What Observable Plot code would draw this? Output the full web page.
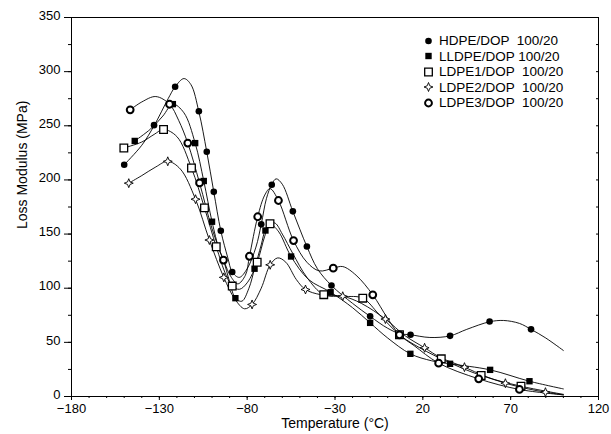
<!DOCTYPE html>
<html><head><meta charset="utf-8">
<script src="https://cdn.jsdelivr.net/npm/d3@7"></script>
<script src="https://cdn.jsdelivr.net/npm/@observablehq/plot@0.6"></script>
<style>
body{margin:0;background:#fff;font-family:"Liberation Sans",Arial,sans-serif}
#wrap{position:relative;width:611px;height:434px}
#legend{position:absolute;left:422px;top:33px;font-size:13.5px;line-height:15.5px;color:#000}
#legend .row{display:flex;align-items:center;white-space:pre;height:15.5px}
#legend svg{margin-right:4px}
</style>
</head><body><div id="wrap"><div id="chart"></div><div id="legend"></div></div>
<script>
const seriesNames = ["HDPE/DOP  100/20","LLDPE/DOP 100/20","LDPE1/DOP  100/20","LDPE2/DOP  100/20","LDPE3/DOP  100/20"];
const xTicks = [-180,-130,-80,-30,20,70,120];
const yTicks = [0,50,100,150,200,250,300,350];

// HDPE/DOP (filled circle)
const hdpeMarkT = [-150,-133,-121,-107.5,-103,-99,-95,-88.5,-72,-66,-54,-46,-32,-10,13,35.5,58,81.6];
const hdpeMarkV = [214,250.6,286,263.4,226,189,153,115,159,195.5,171,138.5,102.5,74,57,56,69.3,62];
const hdpeCurveT = [-150,-140,-133,-125,-121,-116,-112,-107.5,-103,-99,-95,-91,-88.5,-84.5,-80,-75,-72,-69,-66,-63.5,-60,-54,-46,-40,-32,-20,-10,0,7,13,24,35.5,45,58,66,75,81.6,90,100];
const hdpeCurveV = [214,232,250,275,286,293.6,288,263,226,189,153,128,115,110,118,138,159,183,196,201,196,171,138.5,118,102.5,86,74,63,58,57,54.5,56,62,69,70.2,67.5,62,54,42.5];

// LLDPE/DOP (filled square)
const lldpeMarkT = [-144,-122.3,-109.6,-104.7,-100,-93.5,-86.7,-75.8,-69.6,-55,-32.5,-10,12.9,35.5,58.3,80.7];
const lldpeMarkV = [236,270,234,199,161.4,126,90.8,118,153.3,129.3,96.3,68,39.4,30.2,24.6,14.1];
const lldpeCurveT = [-144,-135,-128,-122.3,-116,-109.6,-104.7,-100,-96,-93.5,-90,-86.7,-83,-79,-75.8,-72,-69.6,-66,-62,-55,-45,-32.5,-20,-10,0,12.9,25,35.5,58.3,80.7,100];
const lldpeCurveV = [236,247,259,270,262,234,199,161.4,136,126,106,90.8,88,100,118,140,153.3,158,152,129.3,108,96.3,82,68,54,39.4,33,30.2,24.6,14.1,7];

// LDPE1/DOP (open square)
const ldpe1MarkT = [-150.2,-127.6,-111.7,-104.3,-97.6,-88.5,-74.3,-67,-36.4,-14.2,6.7,30.5,53.2,75.9];
const ldpe1MarkV = [229.5,246.6,211,174.2,138.3,102,124,159.5,94,90.8,57,34.8,19.4,9.5];
const ldpe1CurveT = [-150.2,-140,-133,-127.6,-120,-111.7,-104.3,-97.6,-92,-88.5,-84.4,-80,-74.3,-70,-67,-64,-60,-54,-46,-36.4,-25,-14.2,-5,6.7,15,30.5,53.2,75.9,100];
const ldpe1CurveV = [229.5,235,242,246.6,240,211,174.2,138.3,112,102,99,105,124,148,160,160,150,132,110,94,92.5,90.8,76,57,48,34.8,19.4,9.5,2];

// LDPE2/DOP (four-point star)
const ldpe2MarkT = [-147.4,-125.2,-109.4,-101.5,-93.3,-77.2,-66.9,-46.8,-25.6,-1.3,21,43.7,67,89.8];
const ldpe2MarkV = [197,217.2,182.2,144.5,110,85,121.6,98.8,92.6,71.5,45,27.1,12.3,4];
const ldpe2CurveT = [-147.4,-140,-132,-125.2,-118,-109.4,-101.5,-93.3,-87,-81.5,-77.2,-72,-66.9,-62.6,-58,-52,-46.8,-38,-25.6,-15,-1.3,10,21,30,43.7,55,67,80,89.8,100];
const ldpe2CurveV = [197,204,212,217.2,210,182.2,144.5,110,90,81,85,100,121.6,128,124,108,98.8,94,92.6,86,71.5,56,45,36,27.1,19,12.3,7,4,1.5];

// LDPE3/DOP (open thick circle)
const ldpe3MarkT = [-146.6,-124.2,-113.8,-107.1,-93.5,-78.7,-74,-62.2,-53.6,-31,-8.5,6.7,29,51.8,75];
const ldpe3MarkV = [264.7,269.9,234,197.2,126,129.5,166,181,144,118.5,93.9,57,30.8,16.3,6.5];
const ldpe3CurveT = [-146.6,-140,-132,-124.2,-119,-113.8,-107.1,-100,-93.5,-89,-85.3,-81,-78.7,-74,-70,-67,-62.2,-53.6,-46,-39,-31,-25.6,-18,-8.5,0,6.7,15,29,51.8,75,100];
const ldpe3CurveV = [264.7,272,277,269.9,255,234,197.2,155,126,110,104,112,129.5,166,186,192,181,144,124,116,118.5,120,112,93.9,72,57,47,30.8,16.3,6.5,1.5];

const star4 = {
  draw(ctx, size) {
    const r = Math.sqrt(size / Math.PI) * 1.15, i = r * 0.28;
    ctx.moveTo(0, -r); ctx.lineTo(i, -i); ctx.lineTo(r, 0); ctx.lineTo(i, i);
    ctx.lineTo(0, r); ctx.lineTo(-i, i); ctx.lineTo(-r, 0); ctx.lineTo(-i, -i); ctx.closePath();
  }
};

const styles = [
  {symbol: "circle", r: 3.3, fill: "black", stroke: "none", sw: 0},
  {symbol: "square", r: 3.6, fill: "black", stroke: "none", sw: 0},
  {symbol: "square", r: 4.3, fill: "white", stroke: "black", sw: 1.3},
  {symbol: star4, r: 3.9, fill: "white", stroke: "black", sw: 0.9},
  {symbol: "circle", r: 3.4, fill: "white", stroke: "black", sw: 2}
];

const curves = [[hdpeCurveT,hdpeCurveV],[lldpeCurveT,lldpeCurveV],[ldpe1CurveT,ldpe1CurveV],[ldpe2CurveT,ldpe2CurveV],[ldpe3CurveT,ldpe3CurveV]];
const markers = [[hdpeMarkT,hdpeMarkV],[lldpeMarkT,lldpeMarkV],[ldpe1MarkT,ldpe1MarkV],[ldpe2MarkT,ldpe2MarkV],[ldpe3MarkT,ldpe3MarkV]];

const toRows = ([T, V], s) => T.map((t, i) => ({T: t, V: V[i], s}));

const xMinor = d3.range(-180, 121, 10);
const yMinor = d3.range(0, 351, 25);

const marks = [];
curves.forEach((c, s) => marks.push(Plot.line(toRows(c, s), {x: "T", y: "V", curve: "catmull-rom", stroke: "black", strokeWidth: 0.9})));
markers.forEach((m, s) => {
  const st = styles[s];
  marks.push(Plot.dot(toRows(m, s), {x: "T", y: "V", symbol: st.symbol, r: st.r, fill: st.fill, stroke: st.stroke, strokeWidth: st.sw}));
});
marks.push(Plot.frame({stroke: "black", strokeWidth: 1}));

const hasAxis = typeof Plot.axisX === "function";
if (hasAxis) {
  marks.push(
    Plot.axisX(xTicks, {tickSize: 4, tickPadding: 3, label: null, fontSize: 13}),
    Plot.axisX(xMinor, {tickSize: 2, text: null, label: null}),
    Plot.axisY(yTicks, {tickSize: 7, label: null, text: null}),
    Plot.axisY(yTicks, {tickSize: 0, tickPadding: 11, dy: -2, label: null, fontSize: 13}),
    Plot.axisY(yMinor, {tickSize: 3, text: null, label: null}),
    Plot.axisY(yMinor, {anchor: "right", tickSize: 3, dx: -3, text: null, label: null})
  );
}
marks.push(
  Plot.text(["Temperature (°C)"], {frameAnchor: "bottom", dy: 31, fontSize: 14}),
  Plot.text(["Loss Modulus (MPa)"], {frameAnchor: "left", rotate: -90, dx: -49, dy: 22, fontSize: 14})
);

const chart = Plot.plot({
  width: 611, height: 434,
  marginLeft: 71, marginRight: 13, marginTop: 17, marginBottom: 38,
  style: {fontFamily: "Liberation Sans, Arial, sans-serif", fontSize: "13px", color: "black", background: "white"},
  x: {domain: [-180, 120], ticks: xTicks, tickSize: 4, label: null},
  y: {domain: [0, 350], ticks: yTicks, tickSize: 7, label: null},
  marks
});
document.getElementById("chart").appendChild(chart);

// legend
const leg = document.getElementById("legend");
seriesNames.forEach((name, s) => {
  const st = styles[s];
  const row = document.createElement("div"); row.className = "row";
  const svg = d3.create("svg").attr("width", 13).attr("height", 12);
  const sym = typeof st.symbol === "string" ? (st.symbol === "circle" ? d3.symbolCircle : d3.symbolSquare) : st.symbol;
  svg.append("path").attr("transform", "translate(6.5,6)")
    .attr("d", d3.symbol(sym, Math.PI * st.r * st.r)())
    .attr("fill", st.fill).attr("stroke", st.stroke).attr("stroke-width", st.sw);
  row.appendChild(svg.node());
  const span = document.createElement("span"); span.textContent = name;
  row.appendChild(span);
  leg.appendChild(row);
});
</script>
</body></html>
